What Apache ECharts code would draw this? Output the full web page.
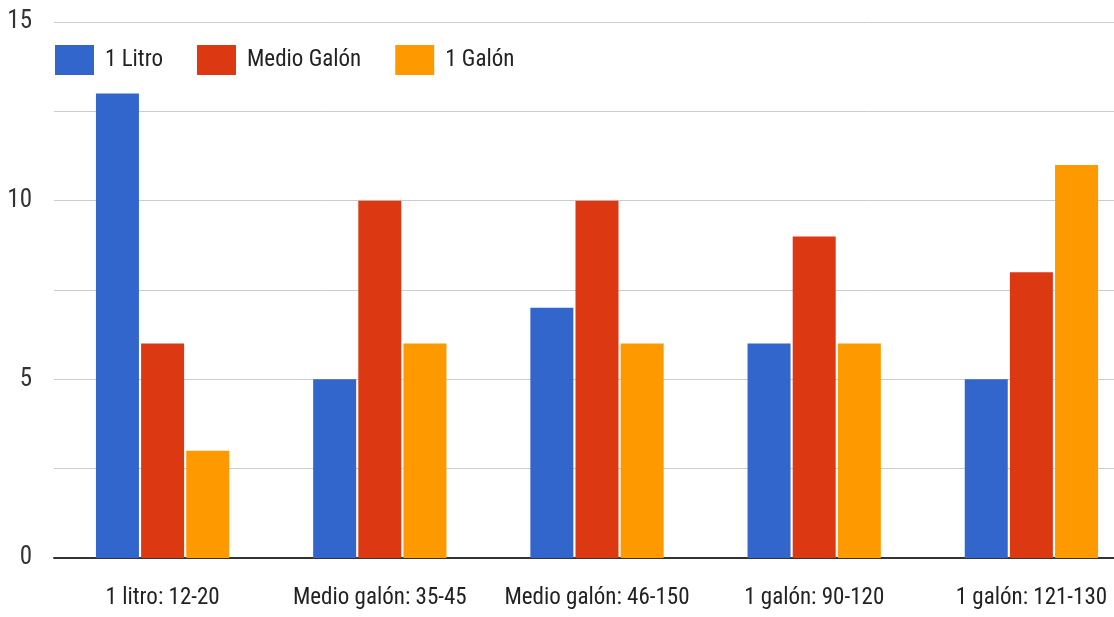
<!DOCTYPE html>
<html>
<head>
<meta charset="utf-8">
<script src="https://cdn.jsdelivr.net/npm/echarts@6/dist/echarts.min.js"></script>
<style>
  html, body { margin: 0; padding: 0; background: #fff; overflow: hidden; }
  #chart { width: 1140px; height: 617px; }
</style>
</head>
<body>
<div id="chart"></div>
<script>
// categorias y valores
var categorias = ['1 litro: 12-20', 'Medio galón: 35-45', 'Medio galón: 46-150', '1 galón: 90-120', '1 galón: 121-130']
var litro = [13, 5, 7, 6, 5]
var medioGalon = [6, 10, 10, 9, 8]
var galon = [3, 6, 6, 6, 11]
var yTicks = [0, 5, 10, 15]

var fuente = '"Liberation Sans Narrow", "Roboto Condensed", Roboto, sans-serif'

var chart = echarts.init(document.getElementById('chart'))

function barSerie(nombre, datos, color) {
  return {
    name: nombre,
    type: 'bar',
    data: datos,
    barWidth: 43,
    barGap: '5%',
    itemStyle: { color: color },
    animation: false
  }
}

chart.setOption({
  animation: false,
  textStyle: { fontFamily: fuente },
  legend: {
    left: 50,
    top: 40,
    icon: 'rect',
    itemWidth: 39,
    itemHeight: 30,
    itemGap: 34,
    textStyle: { fontSize: 23, color: '#222', fontFamily: fuente, padding: [0, 0, 0, 6] },
    data: ['1 Litro', 'Medio Galón', '1 Galón']
  },
  grid: {
    left: 54,
    right: 0,
    top: 22,
    bottom: 59
  },
  xAxis: {
    type: 'category',
    data: categorias,
    axisTick: { show: false },
    axisLine: { lineStyle: { color: '#333', width: 2 } },
    axisLabel: { fontSize: 23, color: '#222', margin: 29, fontFamily: fuente, interval: 0 }
  },
  yAxis: {
    type: 'value',
    min: 0,
    max: 15,
    interval: 2.5,
    axisLine: { show: false },
    axisTick: { show: false },
    splitLine: { lineStyle: { color: '#cccccc', width: 1 } },
    axisLabel: {
      fontSize: 25,
      color: '#333',
      margin: 22,
      fontFamily: fuente,
      formatter: function (v) {
        return yTicks.indexOf(v) >= 0 ? String(v) : ''
      }
    }
  },
  series: [
    barSerie('1 Litro', litro, '#3366cc'),
    barSerie('Medio Galón', medioGalon, '#dc3912'),
    barSerie('1 Galón', galon, '#ff9900')
  ]
})
</script>
</body>
</html>
